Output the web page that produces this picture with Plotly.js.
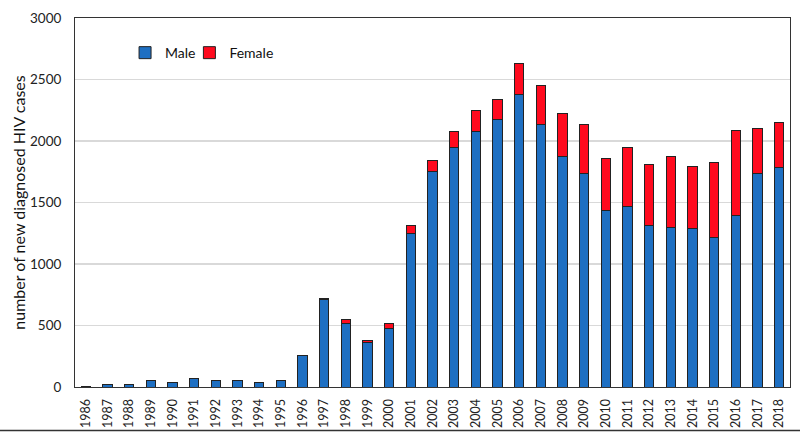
<!DOCTYPE html>
<html>
<head>
<meta charset="utf-8">
<script src="https://cdn.plot.ly/plotly-3.0.1.min.js"></script>
<style>html,body{margin:0;padding:0;background:#fff;}#chart{width:800px;height:432px;}</style>
</head>
<body>
<div id="chart"></div>
<script>
const years = ["1986","1987","1988","1989","1990","1991","1992","1993","1994","1995","1996","1997","1998","1999","2000","2001","2002","2003","2004","2005","2006","2007","2008","2009","2010","2011","2012","2013","2014","2015","2016","2017","2018"];
const male = [8,22,20,50,40,66,50,50,40,50,256,712,520,363,477,1250,1750,1949,2076,2176,2382,2138,1878,1737,1431,1466,1317,1298,1290,1217,1393,1737,1783];
const female = [0,0,0,0,0,0,0,0,0,0,2,8,28,19,41,61,93,132,176,165,250,317,342,401,423,483,491,580,501,607,696,361,366];
const yTicks = [0,500,1000,1500,2000,2500,3000];

const font = "Lato, 'Open Sans', sans-serif";
const traces = [
  {type:'bar', name:'Male', x:years, y:male, legend:'legend',
   marker:{color:'#1E6FC2', line:{color:'#222', width:1}}},
  {type:'bar', name:'Female', x:years, y:female, legend:'legend2',
   marker:{color:'#FF0A1E', line:{color:'#222', width:1}}}
];
const legBase = {orientation:'h', y:0.905, xanchor:'left', yanchor:'middle',
          font:{size:14, color:'#111'}, bgcolor:'rgba(0,0,0,0)', itemwidth:30};
const layout = {
  barmode:'stack', bargap:0.56,
  width:800, height:432,
  margin:{l:75, r:10, t:18, b:45},
  paper_bgcolor:'#fff', plot_bgcolor:'#fff',
  font:{family:font, color:'#222', size:13},
  showlegend:true,
  legend:Object.assign({}, legBase, {x:0.07}),
  legend2:Object.assign({}, legBase, {x:0.16}),
  xaxis:{type:'category', tickangle:-90, tickfont:{size:12.5, color:'#222'},
         showline:true, linecolor:'#333', linewidth:1, mirror:true,
         ticks:'outside', ticklen:6, tickcolor:'rgba(0,0,0,0)', showgrid:false, fixedrange:true},
  yaxis:{range:[0,3000], tickvals:yTicks, ticktext:yTicks.map(String),
         tickfont:{size:13.5, color:'#222'},
         showline:true, linecolor:'#333', linewidth:1, mirror:true,
         showgrid:true, gridcolor:'#d9d9d9', gridwidth:1.5, zeroline:false,
         ticks:'outside', ticklen:10, tickcolor:'rgba(0,0,0,0)',
         title:{text:'number of new diagnosed HIV cases', font:{size:16, color:'#111'}, standoff:0}},
  shapes:[{type:'line', xref:'paper', yref:'paper', x0:-0.11, x1:1.02, y0:-0.118, y1:-0.118,
           line:{color:'#333', width:1.5}}]
};
Plotly.newPlot('chart', traces, layout, {displayModeBar:false, staticPlot:true});
</script>
</body>
</html>
